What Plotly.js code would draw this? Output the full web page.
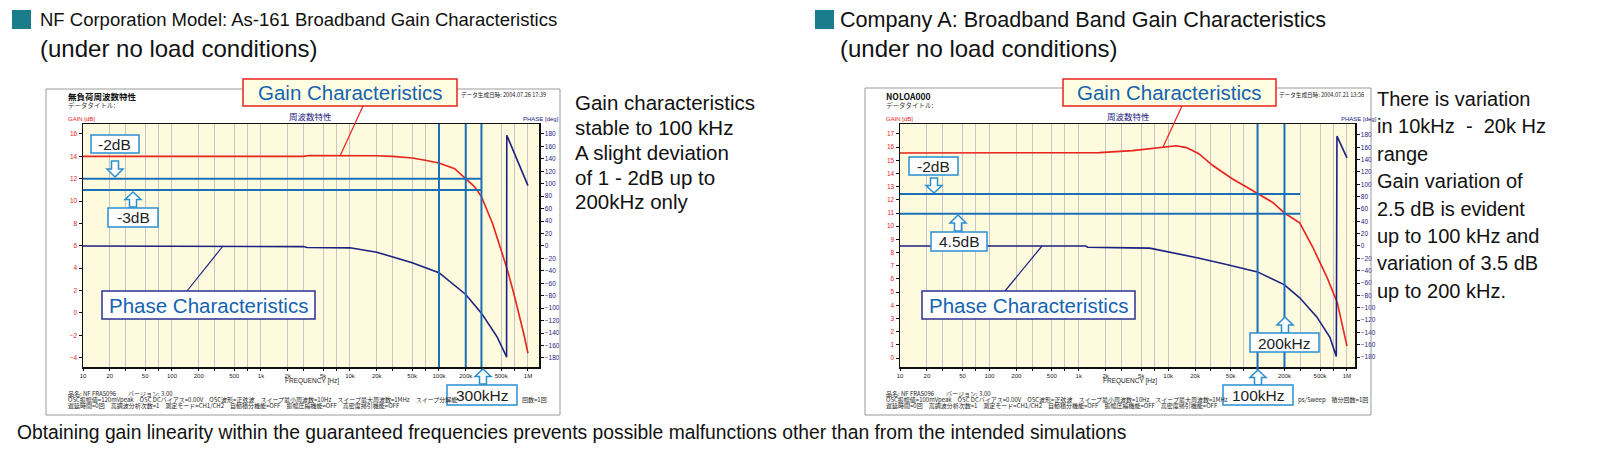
<!DOCTYPE html>
<html><head><meta charset="utf-8">
<script src="https://cdn.plot.ly/plotly-3.0.1.min.js"></script>
<style>html,body{margin:0;padding:0;background:#fff;}#chart{width:1600px;height:465px;}</style>
</head><body><div id="chart"></div>
<script>
// ---------------- data ----------------
const freqTickVals = [10,20,30,50,70,100,200,300,500,700,1e3,2e3,3e3,5e3,7e3,1e4,2e4,3e4,5e4,7e4,1e5,2e5,3e5,5e5,7e5,1e6];
const freqTickText = ['10','20','','50','','100','200','','500','','1k','2k','','5k','','10k','20k','','50k','','100k','200k','','500k','','1M'];
const phaseTicks = [-180,-160,-140,-120,-100,-80,-60,-40,-20,0,20,40,60,80,100,120,140,160,180];
const nfGainTicks = [-4,-2,0,2,4,6,8,10,12,14,16];
const aGainTicks = [0,1,2,3,4,5,6,7,8,9,10,11,12,13,14,15,16,17];

// NF Corporation As-161
const nfFreq = [10,100,1000,3000,3500,10000,20000,30000,50000,70000,100000,150000,200000,250000,300000,350000,400000,500000,600000,700000,800000,900000,1000000];
const nfGain = [14.0,14.0,14.0,14.0,14.08,14.08,14.05,14.0,13.85,13.65,13.4,12.9,12.0,11.3,10.4,9.2,8.0,5.6,3.6,1.6,-0.2,-1.9,-3.6];
const nfPhaseFreq = [10,1000,3000,3300,10000,20000,50000,100000,200000,300000,450000,565000,575000,578000,754000,1000000];
const nfPhase = [0,0,-1,-2.4,-3,-10,-27,-43,-78,-108,-146,-176,-179,178,139,97];

// Company A
const aFreq = [10,1000,1700,4000,7400,12300,16000,22000,31600,52000,76000,100000,148000,200000,296000,415000,600000,780000,1000000];
const aGain = [15.55,15.55,15.58,15.73,15.96,16.1,15.96,15.5,14.6,13.6,12.95,12.5,11.8,11.0,10.25,8.4,6.1,4.2,0.9];
const aPhaseFreq = [10,1200,1250,3700,3800,6200,10500,21000,45000,100000,200000,296000,460000,645000,760000,773000,1000000];
const aPhase = [0,0,-2,-2,-3,-3.5,-9.7,-19,-30,-42,-63,-84,-115,-148,-179,178,143];

// reference markers
const nfRefGain = [12, 11];
const nfRefFreq = [100000, 200000, 300000];
const aRefGain = [12.45, 10.95];
const aRefFreq = [100000, 200000];

// ---------------- helpers ----------------
const W = 1600, H = 465;
const X = v => v / W, Y = v => 1 - v / H;
const LAT = 'Liberation Sans, Arial, sans-serif';
const JP = 'Noto Sans CJK JP, sans-serif';
const RED = '#e8231d', NAVY = '#1d2180', REFBLUE = '#1b6fb6', BOXBLUE = '#2a8fd2', TXTBLUE = '#1463b0';

const shapes = [];
const annotations = [];
function rect(x0, y0, x1, y1, line, fill, width) {
  shapes.push({type:'rect', xref:'paper', yref:'paper', x0:X(x0), x1:X(x1), y0:Y(y0), y1:Y(y1),
    line:{color:line, width:width||1.5}, fillcolor:fill||'rgba(0,0,0,0)', layer:'above'});
}
function seg(x0, y0, x1, y1, color, width) {
  shapes.push({type:'line', xref:'paper', yref:'paper', x0:X(x0), x1:X(x1), y0:Y(y0), y1:Y(y1),
    line:{color:color, width:width||1}, layer:'above'});
}
function arrow(cx, tipY, baseY) {
  const w = 16, sh = 7;
  const dir = Math.sign(baseY - tipY);
  const neck = tipY + dir * Math.abs(baseY - tipY) * 0.5;
  const pts = [[cx,tipY],[cx+w/2,neck],[cx+sh/2,neck],[cx+sh/2,baseY],[cx-sh/2,baseY],[cx-sh/2,neck],[cx-w/2,neck]];
  const p = 'M' + pts.map(q => X(q[0]).toFixed(5) + ',' + Y(q[1]).toFixed(5)).join(' L') + ' Z';
  shapes.push({type:'path', xref:'paper', yref:'paper', path:p, line:{color:BOXBLUE, width:1.5}, fillcolor:'#ffffff', layer:'above'});
}
function txt(x, y, text, size, color, opts) {
  const a = {xref:'paper', yref:'paper', x:X(x), y:Y(y), text:text, showarrow:false,
    xanchor:'left', yanchor:'middle', font:{family:LAT, size:size, color:color||'#111'}};
  if (opts) { if (opts.family) a.font.family = opts.family; if (opts.xanchor) a.xanchor = opts.xanchor; }
  annotations.push(a);
}
function box(x0, y0, x1, y1, border, fill, label, size, color) {
  rect(x0, y0, x1, y1, border, fill, 1.5);
  txt((x0 + x1) / 2, (y0 + y1) / 2 + 0.5, label, size, color, {xanchor:'center'});
}

// ---------------- frames ----------------
rect(46, 89, 560, 415, '#9a9a9a', null, 1);
rect(865, 88, 1371, 415, '#9a9a9a', null, 1);

// reference lines (data coordinates)
nfRefGain.forEach(g => shapes.push({type:'line', xref:'x', yref:'y', x0:10, x1:nfRefFreq[2], y0:g, y1:g, line:{color:REFBLUE, width:2}, layer:'above'}));
nfRefFreq.forEach(f => shapes.push({type:'line', xref:'x', yref:'y domain', x0:f, x1:f, y0:0, y1:1, line:{color:REFBLUE, width:2}, layer:'above'}));
aRefGain.forEach(g => shapes.push({type:'line', xref:'x2', yref:'y3', x0:10, x1:300000, y0:g, y1:g, line:{color:REFBLUE, width:2}, layer:'above'}));
shapes.push({type:'line', xref:'x2', yref:'paper', x0:aRefFreq[0], x1:aRefFreq[0], y0:Y(371), y1:Y(124), line:{color:REFBLUE, width:2}, layer:'above'});
shapes.push({type:'line', xref:'x2', yref:'y3 domain', x0:aRefFreq[1], x1:aRefFreq[1], y0:0, y1:1, line:{color:REFBLUE, width:2}, layer:'above'});

// leader lines
seg(363, 106, 340, 156, RED, 1.2);
seg(187, 291, 223, 246, NAVY, 1.2);
seg(1182, 106, 1163, 147, RED, 1.2);
seg(1005, 291, 1042, 246, NAVY, 1.2);

// boxes - left
box(243, 79, 457, 106, RED, '#fffde2', 'Gain Characteristics', 20.5, TXTBLUE);
box(91, 135, 139, 153, BOXBLUE, '#ffffff', '-2dB', 15.5, '#222');
arrow(115, 177, 161);
box(108, 208, 158, 227, BOXBLUE, '#ffffff', '-3dB', 15.5, '#222');
arrow(133, 192, 207);
box(102, 291, 315, 319, '#2b3092', '#ffffff', 'Phase Characteristics', 20.5, TXTBLUE);
arrow(483, 369, 384);
box(447, 385, 517, 405, BOXBLUE, '#ffffff', '300kHz', 15.5, '#222');
// boxes - right
box(1063, 79, 1276, 106, RED, '#fffde2', 'Gain Characteristics', 20.5, TXTBLUE);
box(909, 157, 958, 175, BOXBLUE, '#ffffff', '-2dB', 15.5, '#222');
arrow(934, 193, 178);
box(931, 232, 987, 251, BOXBLUE, '#ffffff', '4.5dB', 15.5, '#222');
arrow(958, 215, 231);
box(922, 291, 1135, 319, '#2b3092', '#ffffff', 'Phase Characteristics', 20.5, TXTBLUE);
arrow(1285, 317, 333);
box(1250, 333, 1319, 352, BOXBLUE, '#ffffff', '200kHz', 15.5, '#222');
arrow(1258, 370, 385);
box(1223, 385, 1293, 405, BOXBLUE, '#ffffff', '100kHz', 15.5, '#222');

// section squares
shapes.push({type:'rect', xref:'paper', yref:'paper', x0:X(12), x1:X(31), y0:Y(29), y1:Y(10), line:{width:0}, fillcolor:'#1b7d8c'});
shapes.push({type:'rect', xref:'paper', yref:'paper', x0:X(815), x1:X(834), y0:Y(29), y1:Y(10), line:{width:0}, fillcolor:'#1b7d8c'});

// ---------------- texts ----------------
txt(38, 19, 'NF Corporation Model: As-161 Broadband Gain Characteristics', 18.5);
txt(38, 49, '(under no load conditions)', 24);
txt(838, 19, 'Company A: Broadband Band Gain Characteristics', 21.6);
txt(838, 49, '(under no load conditions)', 24);

const leftNotes = ['Gain characteristics', 'stable to 100 kHz', 'A slight deviation', 'of 1 - 2dB up to', '200kHz only'];
leftNotes.forEach((s, i) => txt(573, 102 + i * 25, s, 20.5));
const rightNotes = ['There is variation', 'in 10kHz  -  20k Hz', 'range', 'Gain variation of', '2.5 dB is evident', 'up to 100 kHz and', 'variation of 3.5 dB', 'up to 200 kHz.'];
rightNotes.forEach((s, i) => txt(1375, 99 + i * 27.4, s, 20));

txt(15, 432, 'Obtaining gain linearity within the guaranteed frequencies prevents possible malfunctions other than from the intended simulations', 19.3);

// small texts inside frames (parts hidden under the kHz boxes are left out)
function frameTexts(ox, name, date, l2a, l2b, l2bx) {
  txt(ox, 96, '<b>' + name + '</b>', 8.5, '#111', {family:JP});
  txt(ox, 104.5, 'データタイトル:', 6.5, '#333', {family:JP});
  txt(ox, 119, 'GAIN [dB]', 6, RED);
  txt(ox + 393, 94.5, 'データ生成日時: ' + date, 5.6, '#222', {family:JP});
  txt(ox + 455, 119, 'PHASE [deg]', 6, NAVY);
  txt(ox + 246, 381, 'FREQUENCY [Hz]', 6.5, '#222', {xanchor:'center'});
  txt(ox, 393, '品名: NF FRA5096　　バージョン: 3.00', 6, '#222', {family:JP});
  txt(ox, 399, l2a, 6, '#222', {family:JP});
  txt(l2bx, 399, l2b, 6, '#222', {family:JP});
  txt(ox, 405.5, '遅延時間=0回　高調波分析次数=1　測定モード=CH1/CH2　自動積分機能=OFF　振幅圧縮機能=OFF　高密度掃引機能=OFF', 6, '#222', {family:JP});
}
frameTexts(66, '無負荷周波数特性', '2004.07.26 17:39',
  'OSC振幅値=120mVpeak　OSC DCバイアス=0.00V　OSC波形=正弦波　スイープ最小周波数=10Hz　スイープ最大周波数=1MHz　スイープ分解能',
  '回数=1回', 520);
frameTexts(884, 'NOLOA000', '2004.07.21 13:56',
  'OSC振幅値=100mVpeak　OSC DCバイアス=0.00V　OSC波形=正弦波　スイープ最小周波数=10Hz　スイープ最大周波数=1MHz',
  'ps/Sweep　積分回数=1回', 1296);
txt(310, 116, '周波数特性', 8.5, NAVY, {family:JP, xanchor:'center'});
txt(1128, 116, '周波数特性', 8.5, NAVY, {family:JP, xanchor:'center'});

// ---------------- traces ----------------
const traces = [
  {x:nfFreq, y:nfGain, xaxis:'x', yaxis:'y', mode:'lines', line:{color:RED, width:1.6}, hoverinfo:'skip'},
  {x:nfPhaseFreq, y:nfPhase, xaxis:'x', yaxis:'y2', mode:'lines', line:{color:NAVY, width:1.6}, hoverinfo:'skip'},
  {x:aFreq, y:aGain, xaxis:'x2', yaxis:'y3', mode:'lines', line:{color:RED, width:1.6}, hoverinfo:'skip'},
  {x:aPhaseFreq, y:aPhase, xaxis:'x2', yaxis:'y4', mode:'lines', line:{color:NAVY, width:1.6}, hoverinfo:'skip'}
];

const xCommon = {type:'log', tickmode:'array', tickvals:freqTickVals, ticktext:freqTickText,
  showgrid:true, gridcolor:'#c6c6c6', gridwidth:1, showline:true, linecolor:'#111', linewidth:1.5, mirror:true,
  ticks:'outside', ticklen:2, tickcolor:'#111', tickfont:{family:LAT, size:6, color:'#222'}, zeroline:false, fixedrange:true};
const yGainCommon = {showgrid:false, zeroline:false, showline:true, linecolor:'#111', linewidth:1.5,
  ticks:'outside', ticklen:3, tickcolor:'#111', tickfont:{family:LAT, size:6.5, color:RED}, tickmode:'array', fixedrange:true};
const yPhaseCommon = {showgrid:false, zeroline:false, showline:true, linecolor:'#111', linewidth:1.5, side:'right',
  ticks:'outside', ticklen:3, tickcolor:'#111', tickfont:{family:LAT, size:6.5, color:NAVY}, tickmode:'array', tickvals:phaseTicks, fixedrange:true};

const layout = {
  width:W, height:H, margin:{l:0, r:0, t:0, b:0}, paper_bgcolor:'#ffffff', plot_bgcolor:'#fdfadd', showlegend:false,
  xaxis: Object.assign({}, xCommon, {domain:[X(83), X(539)], range:[1, 6.124], anchor:'y'}),
  yaxis: Object.assign({}, yGainCommon, {domain:[Y(367), Y(124)], range:[-4.83, 16.89], tickvals:nfGainTicks, anchor:'x'}),
  yaxis2: Object.assign({}, yPhaseCommon, {overlaying:'y', anchor:'x', range:[-194.5, 196]}),
  xaxis2: Object.assign({}, xCommon, {domain:[X(900), X(1355)], range:[1, 6.09], anchor:'y3'}),
  yaxis3: Object.assign({}, yGainCommon, {domain:[Y(367), Y(124)], range:[-0.68, 17.75], tickvals:aGainTicks, anchor:'x2'}),
  yaxis4: Object.assign({}, yPhaseCommon, {overlaying:'y3', anchor:'x2', range:[-196.2, 197.8]}),
  shapes: shapes, annotations: annotations
};
Plotly.newPlot('chart', traces, layout, {staticPlot:true, displayModeBar:false});
</script></body></html>
